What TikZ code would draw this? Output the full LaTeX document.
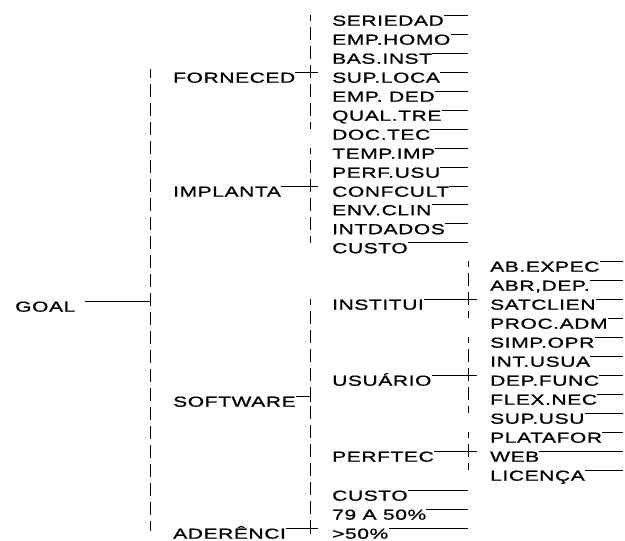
\documentclass[tikz,border=0pt]{standalone}
\usepackage{fontspec}
\setmainfont{Liberation Sans}[FakeStretch=1.45, LetterSpace=4, FakeBold=0.8]
\begin{document}
\begin{tikzpicture}[x=1pt,y=-1pt,
  lbl/.style={inner sep=0pt, text height=10.5pt, text depth=0pt, anchor=north west, font=\fontsize{14.5}{14.5}\selectfont},
  ln/.style={line width=0.8pt},
  dsh/.style={line width=0.8pt, dash pattern=on 13pt off 6pt, dash phase=7pt}]
\useasboundingbox (0,0) rectangle (625,541);
% end columns
\coordinate (x1) at (150,0);
\coordinate (x2) at (310,0);
\coordinate (x2c) at (318,0);
\coordinate (x3) at (468,0);
\coordinate (x3c) at (477,0);
\coordinate (x4) at (623,0);
% level 1
\node[lbl] (goal) at (15,301) {GOAL};
% level 2
\node[lbl] (forn) at (173,72) {FORNECED};
\node[lbl] (impl) at (173,186) {IMPLANTA};
\node[lbl] (soft) at (173,396) {SOFTWARE};
\node[lbl] (ader) at (173,528) {ADERÊNCI};
% level 3
\node[lbl] (a0) at (332,15) {SERIEDAD};
\node[lbl] (a1) at (332,34) {EMP.HOMO};
\node[lbl] (a2) at (332,53) {BAS.INST};
\node[lbl] (a3) at (332,72) {SUP.LOCA};
\node[lbl] (a4) at (332,91) {EMP. DED};
\node[lbl] (a5) at (332,110) {QUAL.TRE};
\node[lbl] (a6) at (332,129) {DOC.TEC};
\node[lbl] (b0) at (332,148) {TEMP.IMP};
\node[lbl] (b1) at (332,167) {PERF.USU};
\node[lbl] (b2) at (332,186) {CONFCULT};
\node[lbl] (b3) at (332,204.5) {ENV.CLIN};
\node[lbl] (b4) at (332,223.5) {INTDADOS};
\node[lbl] (b5) at (332,242.5) {CUSTO};
\node[lbl] (inst) at (332,299) {INSTITUI};
\node[lbl] (usu) at (332,375) {USUÁRIO};
\node[lbl] (perf) at (332,451) {PERFTEC};
\node[lbl] (c0) at (332,490) {CUSTO};
\node[lbl] (c1) at (332,509) {79 A 50\%};
\node[lbl] (c2) at (332,528) {>50\%};
% level 4
\node[lbl] (d0) at (490,261) {AB.EXPEC};
\node[lbl] (d1) at (490,280) {ABR,DEP.};
\node[lbl] (d2) at (490,299) {SATCLIEN};
\node[lbl] (d3) at (490,318) {PROC.ADM};
\node[lbl] (e0) at (490,337) {SIMP.OPR};
\node[lbl] (e1) at (490,356) {INT.USUA};
\node[lbl] (e2) at (490,375) {DEP.FUNC};
\node[lbl] (e3) at (490,394) {FLEX.NEC};
\node[lbl] (e4) at (490,413) {SUP.USU};
\node[lbl] (f0) at (490,432) {PLATAFOR};
\node[lbl] (f1) at (490,451) {WEB};
\node[lbl] (f2) at (490,470) {LICENÇA};
% dashed verticals
\draw[dsh] (forn.north west -| x1) -- (ader.north west -| x1);
\draw[dsh] (a0.north west -| x2) -- (a6.north west -| x2);
\draw[dsh] (b0.north west -| x2) -- (b5.north west -| x2);
\draw[dsh] (inst.north west -| x2) -- (c2.north west -| x2);
\draw[dsh] (d0.north west -| x3) -- (d3.north west -| x3);
\draw[dsh] (e0.north west -| x3) -- (e4.north west -| x3);
\draw[dsh] (f0.north west -| x3) -- (f2.north west -| x3);
% ticks at the ends of dashed lines
\foreach \n in {forn,ader}{\draw[ln] ([yshift=-3pt]\n.north west -| x1) -- ([yshift=3pt]\n.north west -| x1);}
% horizontal connectors
\draw[ln] ([xshift=9pt]goal.north east) -- (goal.north east -| x1);
\draw[ln] ([yshift=-4pt]goal.north east -| x1) -- ([yshift=4pt]goal.north east -| x1);
\foreach \n in {forn,impl,ader}{
  \draw[ln] (\n.north east) -- (\n.north east -| x2c);
  \draw[ln] ([yshift=-6pt]\n.north east -| x2) -- ([yshift=6pt]\n.north east -| x2);}
\draw[ln] (soft.north east) -- (soft.north east -| x2);
\draw[ln] ([yshift=-6pt]soft.north east -| x2) -- ([yshift=6pt]soft.north east -| x2);
\foreach \n in {a0,a1,a2,a3,a4,a5,a6,b0,b1,b2,b3,b4,b5,c0,c1,c2}{
  \draw[ln] (\n.north east) -- (\n.north east -| x3);}
\foreach \n in {inst,usu,perf}{
  \draw[ln] (\n.north east) -- (\n.north east -| x3c);
  \draw[ln] ([yshift=-6pt]\n.north east -| x3) -- ([yshift=6pt]\n.north east -| x3);}
\foreach \n in {d0,d1,d2,d3,e0,e1,e2,e3,e4,f0,f1,f2}{
  \draw[ln] (\n.north east) -- (\n.north east -| x4);}
\end{tikzpicture}
\end{document}
